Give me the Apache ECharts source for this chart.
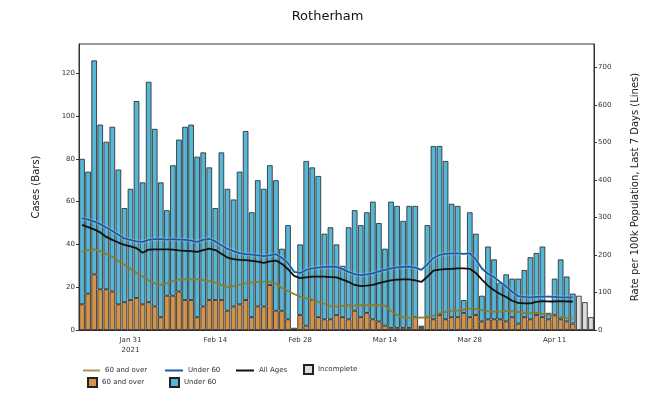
<!DOCTYPE html>
<html>
<head>
<meta charset="utf-8">
<script src="https://cdn.jsdelivr.net/npm/echarts@6/dist/echarts.min.js"></script>
<style>html,body{margin:0;padding:0;background:#fff;}#chart{width:655px;height:393px;}</style>
</head>
<body>
<div id="chart"></div>
<script>
// Dates (2021), one bar per day
const dates = [
 '01-23','01-24','01-25','01-26','01-27','01-28','01-29','01-30','01-31',
 '02-01','02-02','02-03','02-04','02-05','02-06','02-07','02-08','02-09','02-10','02-11','02-12','02-13','02-14',
 '02-15','02-16','02-17','02-18','02-19','02-20','02-21','02-22','02-23','02-24','02-25','02-26','02-27','02-28',
 '03-01','03-02','03-03','03-04','03-05','03-06','03-07','03-08','03-09','03-10','03-11','03-12','03-13','03-14',
 '03-15','03-16','03-17','03-18','03-19','03-20','03-21','03-22','03-23','03-24','03-25','03-26','03-27','03-28',
 '03-29','03-30','03-31','04-01','04-02','04-03','04-04','04-05','04-06','04-07','04-08','04-09','04-10','04-11',
 '04-12','04-13','04-14','04-15','04-16','04-17'
];
// Cases, 60 and over (bars)
const over60Cases = [
 12,17,26,19,19,18,12,13,14,15,12,13,11,6,16,16,18,14,14,6,
 11,14,14,14,9,11,12,14,6,11,11,21,9,9,5,0,7,2,14,6,
 5,5,7,6,5,9,6,8,5,4,2,1,1,1,1,6,1,6,5,7,
 5,6,6,8,6,7,4,5,5,5,4,6,3,6,5,7,6,5,7,5,
 4,3,null,null,null
];
// Cases, under 60 (bars)
const under60Cases = [
 68,57,100,77,69,77,63,44,52,92,57,103,83,63,40,61,71,81,82,75,
 72,62,43,69,57,50,62,79,49,59,55,56,61,29,44,1,33,77,62,66,
 40,43,33,24,43,47,43,47,55,46,36,59,57,50,57,52,1,43,81,79,
 74,53,52,6,49,38,12,34,28,17,22,18,21,22,29,29,33,3,17,28,
 21,14,null,null,null
];
// Cases, incomplete days (bars)
const incompleteCases = [
 null,null,null,null,null,null,null,null,null,null,null,null,null,null,null,null,null,null,null,null,
 null,null,null,null,null,null,null,null,null,null,null,null,null,null,null,null,null,null,null,null,
 null,null,null,null,null,null,null,null,null,null,null,null,null,null,null,null,null,null,null,null,
 null,null,null,null,null,null,null,null,null,null,null,null,null,null,null,null,null,null,null,null,
 null,null,16,13,6
];
// Rate per 100k, last 7 days (lines)
const rateOver60 = [
 209,213,215,210,203,195,184,174,163,152,143,132,124,120,124,130,134,135,135,135,
 133,130,126,120,114,117,120,124,126,128,129,129,124,112,104,96,89,84,80,75,
 70,64,62,64,66,65,66,66,67,66,65,50,40,34,33,33,33,34,38,44,
 48,51,52,54,57,56,53,50,49,49,51,50,48,46,45,46,43,40,37,35,
 32,31,null,null,null
];
const rateUnder60 = [
 298,294,289,282,273,264,254,244,240,236,235,240,242,242,241,242,241,240,238,235,
 240,243,236,226,216,210,205,202,201,199,197,199,202,192,178,155,152,160,164,166,
 168,169,168,162,155,149,146,148,151,156,160,164,167,168,169,166,160,175,192,200,
 203,204,204,203,204,188,164,150,141,128,116,102,90,88,87,88,89,89,88,87,
 87,87,null,null,null
];
const rateAllAges = [
 280,274,268,260,248,240,233,227,223,218,206,214,215,215,215,214,212,211,210,208,
 213,217,213,203,193,189,187,186,184,182,179,183,185,176,162,144,138,140,142,142,
 142,141,140,134,128,120,117,118,120,125,129,132,134,135,135,132,128,142,158,161,
 162,163,164,164,163,152,134,118,106,96,88,78,72,71,71,75,77,76,76,77,
 76,76,null,null,null
];
const monthNames = {'01':'Jan','02':'Feb','03':'Mar','04':'Apr'};
const leftTicks = [0,20,40,60,80,100,120];
const rightTicks = [0,100,200,300,400,500,600,700];

const FONT = 'DejaVu Sans';
const labelInterval = function (i) { return i >= 8 && (i - 8) % 14 === 0; };

const chart = echarts.init(document.getElementById('chart'), null, {renderer: 'canvas'});
const barBorder = {borderColor: '#222', borderWidth: 0.8};
const legendText = {fontFamily: FONT, fontSize: 7, color: '#333'};
function legendItem(name, left, top, w, h, icon) {
  return {data: [{name: name, icon: icon}], left: left, top: top, itemWidth: w, itemHeight: h, padding: 0,
    textStyle: legendText, selectedMode: false,
    formatter: function (n) { return n.replace(' (line)', ''); }};
}
const C_OVER_LINE = '#8a7d2e', C_UNDER_LINE = '#1d5aa6', C_ALL_LINE = '#111';
chart.setOption({
  animation: false,
  title: {text: 'Rotherham', left: 'center', top: 5,
    textStyle: {fontFamily: FONT, fontSize: 13, fontWeight: 'normal', color: '#111'}},
  grid: {left: 79, top: 44, width: 515, height: 286, show: true, borderColor: '#333', borderWidth: 1},
  legend: [
    legendItem('60 and over (line)', 83, 367, 17, 2, 'rect'),
    legendItem('Under 60 (line)', 165, 367, 18, 2, 'rect'),
    legendItem('All Ages', 236, 367, 18, 2, 'rect'),
    legendItem('Incomplete', 303, 364, 9, 9, 'rect'),
    legendItem('60 and over', 87, 377, 9, 9, 'rect'),
    legendItem('Under 60', 169, 377, 9, 9, 'rect')
  ],
  xAxis: {
    type: 'category', data: dates, boundaryGap: true,
    axisLine: {lineStyle: {color: '#333'}},
    axisTick: {interval: labelInterval, alignWithLabel: true, length: 3, lineStyle: {color: '#333'}},
    axisLabel: {interval: labelInterval, fontFamily: FONT, fontSize: 7, color: '#333', margin: 5, lineHeight: 10,
      formatter: function (v, i) {
        const p = v.split('-');
        let s = monthNames[p[0]] + ' ' + parseInt(p[1], 10);
        if (i === 8) s += '\n2021';
        return s;
      }}
  },
  yAxis: [
    {type: 'value', min: 0, max: 133.7, interval: 20,
      name: 'Cases (Bars)', nameLocation: 'middle', nameGap: 38, nameRotate: 90,
      nameTextStyle: {fontFamily: FONT, fontSize: 10, color: '#222'},
      axisLine: {show: true, lineStyle: {color: '#333'}},
      axisTick: {show: true, length: 3, lineStyle: {color: '#333'}},
      splitLine: {show: false},
      axisLabel: {fontFamily: FONT, fontSize: 7, color: '#333', margin: 4, showMaxLabel: false,
        formatter: function (v) { return leftTicks.indexOf(v) >= 0 ? String(v) : ''; }}},
    {type: 'value', min: 0, max: 762, interval: 100, position: 'right',
      name: 'Rate per 100k Population, Last 7 Days (Lines)', nameLocation: 'middle', nameGap: 36, nameRotate: 90,
      nameTextStyle: {fontFamily: FONT, fontSize: 10, color: '#222'},
      axisLine: {show: true, lineStyle: {color: '#333'}},
      axisTick: {show: true, length: 3, lineStyle: {color: '#333'}},
      splitLine: {show: false},
      axisLabel: {fontFamily: FONT, fontSize: 7, color: '#333', margin: 4, showMaxLabel: false,
        formatter: function (v) { return rightTicks.indexOf(v) >= 0 ? String(v) : ''; }}}
  ],
  series: [
    {name: '60 and over', type: 'bar', stack: 'cases', data: over60Cases, barCategoryGap: '8%',
      itemStyle: Object.assign({color: '#d3934a'}, barBorder)},
    {name: 'Under 60', type: 'bar', stack: 'cases', data: under60Cases,
      itemStyle: Object.assign({color: '#56b6d6'}, barBorder)},
    {name: 'Incomplete', type: 'bar', stack: 'cases', data: incompleteCases,
      itemStyle: Object.assign({color: '#dcdcdc'}, barBorder)},
    {name: '60 and over (line)', type: 'line', yAxisIndex: 1, data: rateOver60, symbol: 'none',
      lineStyle: {color: C_OVER_LINE, width: 1.8}, itemStyle: {color: '#b09058'}, z: 5},
    {name: 'Under 60 (line)', type: 'line', yAxisIndex: 1, data: rateUnder60, symbol: 'none',
      lineStyle: {color: C_UNDER_LINE, width: 1.8, shadowColor: 'rgba(200,230,255,0.9)', shadowBlur: 2}, itemStyle: {color: C_UNDER_LINE}, z: 6},
    {name: 'All Ages', type: 'line', yAxisIndex: 1, data: rateAllAges, symbol: 'none',
      lineStyle: {color: C_ALL_LINE, width: 1.8}, itemStyle: {color: C_ALL_LINE}, z: 7}
  ]
});
</script>
</body>
</html>
